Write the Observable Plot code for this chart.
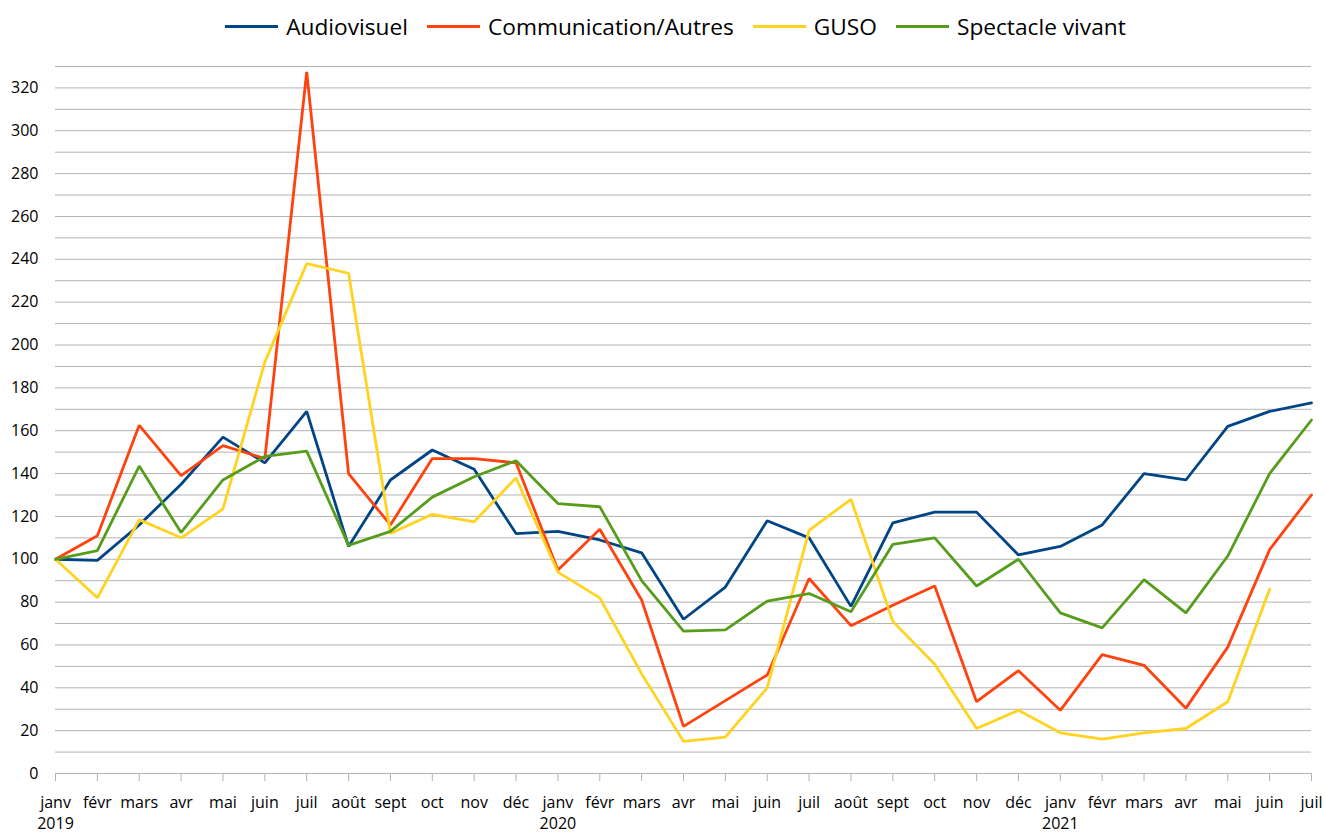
<!DOCTYPE html>
<html>
<head>
<meta charset="utf-8">
<script src="https://cdn.jsdelivr.net/npm/d3@7"></script>
<script src="https://cdn.jsdelivr.net/npm/@observablehq/plot@0.6"></script>
<style>
  body { margin: 0; background: white; font-family: 'Open Sans', sans-serif; }
  #legend { height: 50px; display: flex; justify-content: center; align-items: center; padding-left: 26px; padding-top: 2px; box-sizing: border-box; font-size: 22.7px; color: #000; }
  .item { display: flex; align-items: center; margin: 0 9.5px; }
  .sw { width: 53px; height: 3px; margin-right: 8px; }
</style>
</head>
<body>
<div id="legend"></div>
<div id="chart"></div>
<script>
const months = ["janv","févr","mars","avr","mai","juin","juil","août","sept","oct","nov","déc"];
const years = ["2019","2020","2021"];
const seriesNames = ["Audiovisuel","Communication/Autres","GUSO","Spectacle vivant"];
const seriesColors = ["#004586","#ff420e","#ffd320","#579d1c"];

const audiovisuel = [100,99.5,116,135,157,145,169,106,137,151,142,112,113,109,103,72,87,118,110,78,117,122,122,102,106,116,140,137,162,169,173];
const communication = [100,111,162.5,139,153,147,327.5,140,116,147,147,145,95,114,81,22,34,46,91,69,78.5,87.5,33.5,48,29.5,55.5,50.5,30.5,59,104.5,130];
const guso = [100,82,118.5,110,123.5,192,238,233.5,112,121,117.5,138,94,82,46.5,15,17,40,113.5,128,71,51,21,29.5,19,16,19,21,33.5,86];
const spectacle = [100,104,143.5,112.5,137,148,150.5,106.5,113,129,138.5,146,126,124.5,90,66.5,67,80.5,84,75.5,107,110,87.5,100,75,68,90.5,75,101.5,140,165];

const yTicks = d3.range(0, 321, 20);
const yGrid = d3.range(10, 331, 10);

const seriesValues = [audiovisuel, communication, guso, spectacle];
const data = [];
seriesValues.forEach((vals, s) => {
  vals.forEach((v, i) => data.push({ i, series: seriesNames[s], value: v }));
});

const nMonths = audiovisuel.length;
const fmt = i => months[i % 12] + (i % 12 === 0 ? "\n" + years[Math.floor(i / 12)] : "");

const chart = Plot.plot({
  width: 1325,
  height: 785,
  marginTop: 16,
  marginBottom: 62,
  marginLeft: 55,
  marginRight: 14,
  style: { fontFamily: "'Open Sans', sans-serif", fontSize: "16px", color: "#000", background: "white" },
  x: { domain: [0, nMonths - 1] },
  y: { domain: [0, 330] },
  color: { domain: seriesNames, range: seriesColors },
  marks: [
    Plot.gridY(yGrid, { stroke: "#b3b3b3", strokeOpacity: 1 }),
    Plot.ruleY([0], { stroke: "#b3b3b3" }),
    Plot.axisY(yTicks, { tickSize: 0, tickPadding: 17, label: null, fontSize: 16 }),
    Plot.axisX(d3.range(0, nMonths), { tickSize: 8, tickPadding: 12, stroke: "#b3b3b3", strokeOpacity: 1, tickFormat: fmt, lineHeight: 1.3, label: null, fontSize: 16 }),
    Plot.line(data, { x: "i", y: "value", stroke: "series", z: "series", strokeWidth: 2.8, strokeLinejoin: "miter" })
  ]
});
document.getElementById("chart").appendChild(chart);

const legend = document.getElementById("legend");
seriesNames.forEach((n, k) => {
  const it = document.createElement("div");
  it.className = "item";
  const sw = document.createElement("div");
  sw.className = "sw";
  sw.style.background = seriesColors[k];
  const t = document.createElement("span");
  t.textContent = n;
  it.appendChild(sw); it.appendChild(t);
  legend.appendChild(it);
});
</script>
</body>
</html>
